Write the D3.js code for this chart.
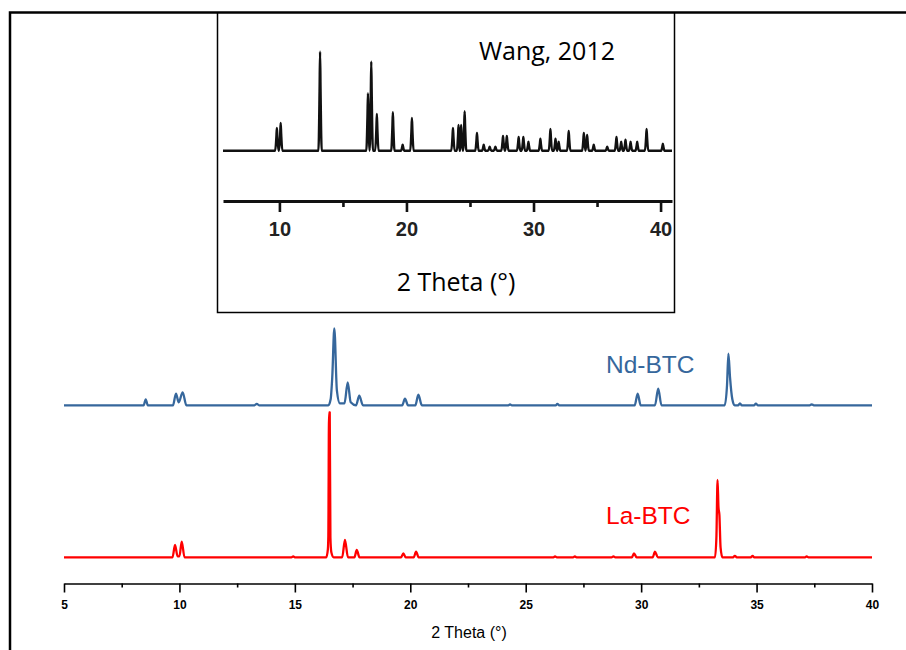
<!DOCTYPE html>
<html><head><meta charset="utf-8">
<script src="https://cdn.jsdelivr.net/npm/d3@7"></script>
<style>body{margin:0;background:#fff}svg{display:block}</style>
</head><body>
<script>
// ---- Data (2θ in degrees, intensity in arbitrary units) ----
const ndBTC = [[5.0,0],[8.45,0],[8.54,6],[8.63,0],[9.72,0],[9.85,11.7],[9.97,3],[10.14,13],[10.3,0],[13.25,0],[13.35,1.5],[13.45,0],[16.45,0],[16.55,6],[16.62,28],[16.71,77],[16.82,15],[16.95,2],[17.15,2],[17.29,23],[17.42,3],[17.65,0],[17.79,9.7],[17.95,0],[19.65,0],[19.77,6.7],[19.9,0],[20.22,0],[20.35,10.7],[20.5,0],[24.25,0],[24.32,1],[24.4,0],[26.3,0],[26.37,1.5],[26.45,0],[29.72,0],[29.85,11.7],[29.98,0],[30.6,0],[30.74,16.7],[30.88,0],[33.62,0],[33.72,20],[33.78,51.7],[33.85,28],[33.95,6],[34.05,0],[34.2,0],[34.28,2],[34.36,0],[34.9,0],[34.97,1.7],[35.05,0],[37.3,0],[37.39,1],[37.48,0],[40.0,0]];
const laBTC = [[5.0,0],[9.7,0],[9.81,12.3],[9.92,1],[10.0,1],[10.1,15.7],[10.22,0],[14.85,0],[14.93,1],[15.0,0],[16.36,0],[16.43,8],[16.45,20.7],[16.48,145],[16.51,145],[16.54,20],[16.58,5],[16.68,0],[17.05,0],[17.17,17.3],[17.3,0],[17.58,0],[17.68,7.3],[17.8,0],[19.6,0],[19.7,4],[19.8,0],[20.15,0],[20.25,5.7],[20.36,0],[26.2,0],[26.27,1],[26.35,0],[27.05,0],[27.13,1],[27.2,0],[28.72,0],[28.8,1],[28.88,0],[29.6,0],[29.69,4],[29.8,0],[30.5,0],[30.6,5.7],[30.72,0],[33.2,0],[33.26,20],[33.31,77.3],[33.35,50],[33.39,42.3],[33.44,10],[33.52,0],[33.98,0],[34.06,1.5],[34.14,0],[34.75,0],[34.83,1.5],[34.9,0],[37.1,0],[37.17,1],[37.25,0],[40.0,0]];
// Inset (Wang, 2012) peak list: [2θ, relative intensity]
const wangPeaks = [[9.8,23],[10.1,28],[13.2,100],[16.97,58],[17.23,90],[17.67,37],[18.93,39],[19.7,6],[20.43,33],[23.66,23],[24.1,26],[24.3,26],[24.58,40],[25.55,18],[26.08,6],[26.55,4],[27.0,4],[27.6,15],[27.9,15],[28.83,14],[29.2,14],[29.6,9],[30.54,12],[31.33,22],[31.73,12],[31.98,9],[32.77,20],[33.96,18],[34.22,16],[34.74,6],[35.8,4],[36.53,14],[36.9,9],[37.24,11],[37.64,9],[38.16,9],[38.9,22],[40.18,7]];
const mainTicks = [5,10,15,20,25,30,35,40];
const mainMinor = [7.5,12.5,17.5,22.5,27.5,32.5,37.5];
const insetTicks = [10,20,30,40];
const insetMinor = [15,25,35];
const ndOffset = 152;

const W = 906, H = 650;
const svg = d3.select("body").append("svg").attr("width", W).attr("height", H);

// outer frame (left + top)
svg.append("path").attr("d", `M10,${H} L10,12.5 L${W},12.5`).attr("fill","none").attr("stroke","#000").attr("stroke-width",2.5);

// ---- main chart ----
const x = d3.scaleLinear().domain([5,40]).range([64,872]);
const y = d3.scaleLinear().domain([0,250]).range([557.3,307.3]);
const line = d3.line().x(d=>x(d[0])).y(d=>y(d[1])).curve(d3.curveMonotoneX);
const lineNd = d3.line().x(d=>x(d[0])).y(d=>y(d[1]+ndOffset)).curve(d3.curveMonotoneX);

svg.append("path").datum(ndBTC).attr("d", lineNd).attr("fill","none").attr("stroke","#36679c").attr("stroke-width",2.3).attr("stroke-linejoin","round");
svg.append("path").datum(laBTC).attr("d", line).attr("fill","none").attr("stroke","#ff0000").attr("stroke-width",2.3).attr("stroke-linejoin","round");

svg.append("text").attr("x",606).attr("y",373).attr("font-family","Liberation Sans, Arial, sans-serif").attr("font-size",24.5).attr("fill","#36679c").text("Nd-BTC");
svg.append("text").attr("x",606).attr("y",524).attr("font-family","Liberation Sans, Arial, sans-serif").attr("font-size",24.5).attr("fill","#ff0000").text("La-BTC");

const ax = svg.append("g").attr("transform","translate(0,583.5)");
ax.call(d3.axisBottom(x).tickValues(mainTicks).tickSize(9).tickSizeOuter(0).tickPadding(8).tickFormat(d3.format("d")));
ax.select(".domain").attr("stroke","#000").attr("stroke-width",1.6);
ax.selectAll(".tick line").attr("stroke","#000").attr("stroke-width",1.6);
ax.selectAll(".tick text").attr("font-family","Liberation Sans, Arial, sans-serif").attr("font-size",12).attr("font-weight","bold").attr("fill","#000");
const axm = svg.append("g").attr("transform","translate(0,583.5)");
axm.call(d3.axisBottom(x).tickValues(mainMinor).tickSize(4).tickSizeOuter(0).tickFormat(""));
axm.select(".domain").remove();
axm.selectAll(".tick line").attr("stroke","#000").attr("stroke-width",1.6);
svg.append("text").attr("x",469).attr("y",638).attr("text-anchor","middle").attr("font-family","Liberation Sans, Arial, sans-serif").attr("font-size",16).attr("fill","#000").text("2 Theta (°)");

// ---- inset ----
svg.append("rect").attr("x",217.5).attr("y",13).attr("width",457).attr("height",299.5).attr("fill","#fff").attr("stroke","#000").attr("stroke-width",1.5);
const xi = d3.scaleLinear().domain([5.56,40.9]).range([223,672]);
const yi = d3.scaleLinear().domain([0,100]).range([150.7,51.7]);
// build explicit vertex list from the read peak list
const insetPts = [[5.56,0]];
wangPeaks.forEach(p=>{ insetPts.push([p[0]-0.13,0],[p[0]-0.04,p[1]*0.6],[p[0],p[1]],[p[0]+0.04,p[1]*0.6],[p[0]+0.13,0]); });
insetPts.push([40.9,0]);
insetPts.sort((a,b)=>a[0]-b[0]);
const linei = d3.line().x(d=>xi(d[0])).y(d=>yi(d[1])).curve(d3.curveMonotoneX);
svg.append("path").datum(insetPts).attr("d", linei).attr("fill","none").attr("stroke","#111").attr("stroke-width",2.4).attr("stroke-linejoin","round");

const ai = svg.append("g").attr("transform","translate(0,201)");
ai.call(d3.axisBottom(xi).tickValues(insetTicks).tickSize(11).tickSizeOuter(0).tickPadding(10).tickFormat(d3.format("d")));
ai.select(".domain").attr("stroke","#111").attr("stroke-width",2.8);
ai.selectAll(".tick line").attr("stroke","#111").attr("stroke-width",2.6);
ai.selectAll(".tick text").attr("font-family","Liberation Sans, Arial, sans-serif").attr("font-size",20).attr("font-weight","bold").attr("fill","#222");
const aim = svg.append("g").attr("transform","translate(0,201)");
aim.call(d3.axisBottom(xi).tickValues(insetMinor).tickSize(6).tickSizeOuter(0).tickFormat(""));
aim.select(".domain").remove();
aim.selectAll(".tick line").attr("stroke","#111").attr("stroke-width",2.6);

svg.append("text").attr("x",547).attr("y",60).attr("text-anchor","middle").attr("font-family","Open Sans, sans-serif").attr("font-size",25).attr("fill","#000").text("Wang, 2012");
svg.append("text").attr("x",456).attr("y",291).attr("text-anchor","middle").attr("font-family","Open Sans, sans-serif").attr("font-size",25).attr("fill","#000").text("2 Theta (°)");
</script>
</body></html>
